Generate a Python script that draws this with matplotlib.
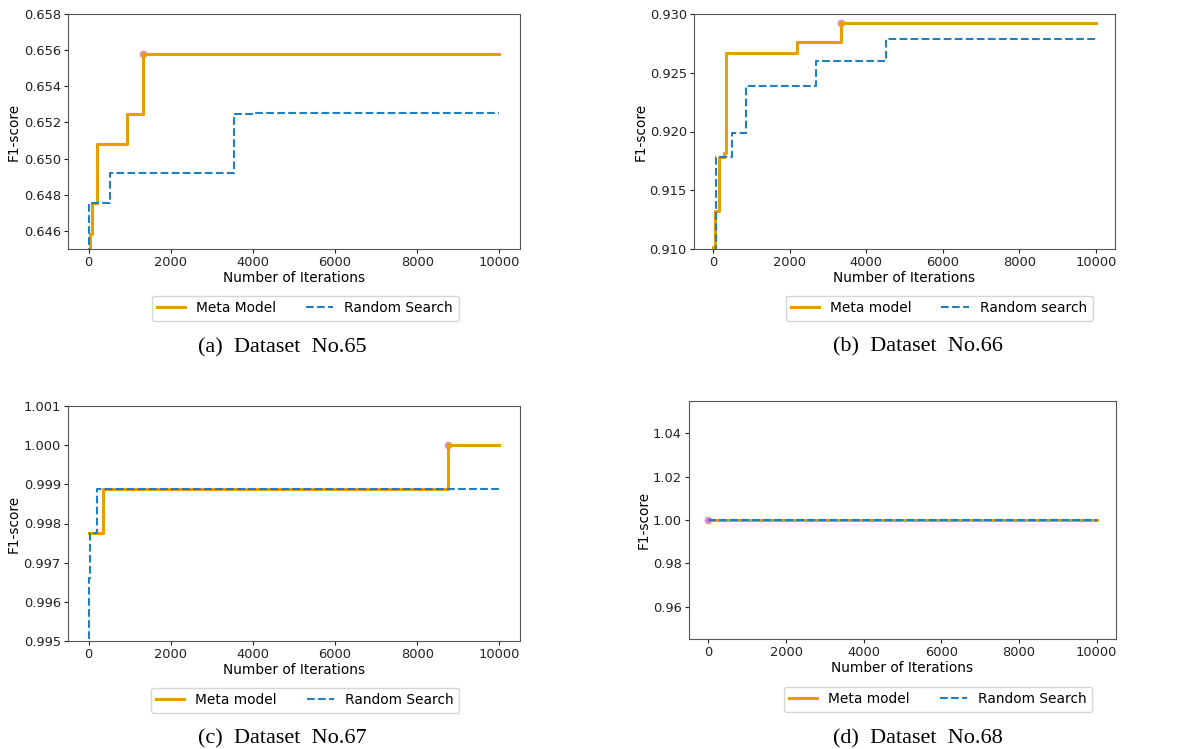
import numpy as np
import matplotlib
matplotlib.use("Agg")
import matplotlib.pyplot as plt
from matplotlib.ticker import MultipleLocator, FormatStrFormatter

# best-so-far F1-score vs iterations
a_meta_x = [0, 24, 89, 203, 933, 1322, 10000]
a_meta_y = [0.6445, 0.64585, 0.64756, 0.65083, 0.65247, 0.65580, 0.65580]
a_rand_x = [0, 8, 527, 3528, 4015, 10000]
a_rand_y = [0.6440, 0.64756, 0.64918, 0.65245, 0.65250, 0.65250]

b_meta_x = [0, 44, 148, 290, 331, 2180, 3339, 10000]
b_meta_y = [0.9102, 0.91323, 0.91786, 0.9182, 0.92665, 0.92762, 0.92921, 0.92921]
b_rand_x = [0, 70, 480, 846, 2685, 4507, 10000]
b_rand_y = [0.9090, 0.91786, 0.91990, 0.92387, 0.92597, 0.92784, 0.92784]

c_meta_x = [0, 349, 8743, 10000]
c_meta_y = [0.997745, 0.998875, 1.0, 1.0]
c_rand_x = [0, 15, 40, 195, 10000]
c_rand_y = [0.9945, 0.9966, 0.997745, 0.998875, 0.998875]

d_meta_x = [0, 10000]
d_meta_y = [1.0, 1.0]
d_rand_x = [0, 10000]
d_rand_y = [1.0, 1.0]

best = [(1322, 0.65580), (3339, 0.92921), (8743, 1.0), (0, 1.0)]

legend_labels = [("Meta Model", "Random Search"),
                 ("Meta model", "Random search"),
                 ("Meta model", "Random Search"),
                 ("Meta model", "Random Search")]
captions = ["(a)  Dataset  No.65", "(b)  Dataset  No.66",
            "(c)  Dataset  No.67", "(d)  Dataset  No.68"]
ylims = [(0.645, 0.658), (0.910, 0.930), (0.995, 1.001), None]
ysteps = [0.002, 0.005, 0.001, 0.02]
yfmts = ["%.3f", "%.3f", "%.3f", "%.2f"]

orange = "#E69F00"
blue = "#1F7FC0"
pink = "#E08CB8"

W, H = 1200, 749
fig = plt.figure(figsize=(12, 7.49), dpi=100)

# axes boxes in pixels: left, top, right, bottom
boxes = [(68, 14, 520, 249), (694, 14, 1115, 249),
         (68, 406, 520, 641), (689, 401, 1116, 639)]
ylabel_right = [21, 648, 21, 651]
legend_pos = [(305, 308), (939, 308), (305, 700), (938, 699)]
caption_pos = [(282, 348), (918, 347), (282, 739), (918, 739)]

data = [(a_meta_x, a_meta_y, a_rand_x, a_rand_y),
        (b_meta_x, b_meta_y, b_rand_x, b_rand_y),
        (c_meta_x, c_meta_y, c_rand_x, c_rand_y),
        (d_meta_x, d_meta_y, d_rand_x, d_rand_y)]

for i in range(4):
    l, t, r, b = boxes[i]
    ax = fig.add_axes([l / W, 1 - b / H, (r - l) / W, (b - t) / H])
    mx, my, rx, ry = data[i]
    ax.step(mx, my, where="post", color=orange, lw=2.2, label=legend_labels[i][0])
    ax.step(rx, ry, where="post", color=blue, lw=1.5, ls="--", label=legend_labels[i][1])
    ax.plot([best[i][0]], [best[i][1]], "o", color=pink, ms=4.5, zorder=1.5)
    if ylims[i] is not None:
        ax.set_ylim(*ylims[i])
    ax.set_xlim(-500, 10500)
    ax.set_xticks([0, 2000, 4000, 6000, 8000, 10000])
    ax.yaxis.set_major_locator(MultipleLocator(ysteps[i]))
    ax.yaxis.set_major_formatter(FormatStrFormatter(yfmts[i]))
    ax.tick_params(labelsize=9.4, colors="#222222", length=3, pad=2.2)
    for s in ax.spines.values():
        s.set_color("#555555")
    ax.set_xlabel("Number of Iterations", fontsize=9.8, labelpad=1)
    ax.set_ylabel("F1-score", fontsize=9.8)
    ax.yaxis.set_label_coords((ylabel_right[i] - l) / (r - l), 0.5)
    lx, ly = legend_pos[i]
    ax.legend(loc="center", bbox_to_anchor=(lx / W, 1 - ly / H),
              bbox_transform=fig.transFigure, ncol=2, fontsize=9.9,
              columnspacing=2.2)
    cx, cy = caption_pos[i]
    fig.text(cx / W, 1 - cy / H, captions[i], ha="center", va="center",
             fontsize=16, family="Liberation Serif")

fig.savefig("out.png", dpi=100)
